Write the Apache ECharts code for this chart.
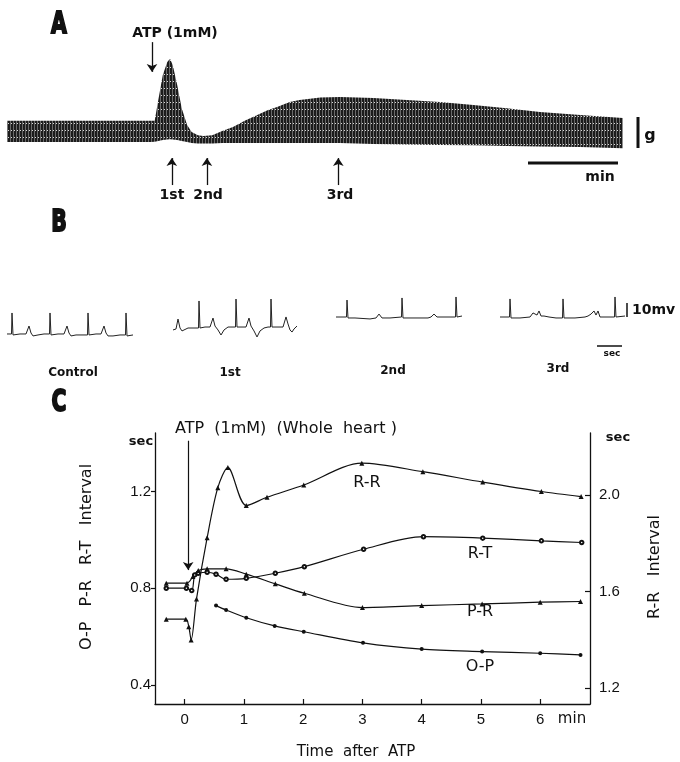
<!DOCTYPE html>
<html>
<head>
<meta charset="utf-8">
<script src="https://cdn.jsdelivr.net/npm/echarts@6/dist/echarts.min.js"></script>
<style>
html, body { margin: 0; padding: 0; background: #fff; }
#chart { width: 680px; height: 762px; }
</style>
</head>
<body>
<div id="chart"></div>
<script>
// ---- panel A : contraction record, envelope of the beats (min after ATP / g)
var forceTime  = [-1.61, -0.58, -0.02, 0.03, 0.07, 0.12, 0.17, 0.2, 0.23, 0.28, 0.33, 0.39, 0.44, 0.51, 0.57, 0.67, 0.78, 0.9, 1.03, 1.17, 1.29, 1.39, 1.53, 1.64, 1.87, 2.09, 2.46, 2.83, 3.2, 3.57, 3.94, 4.31, 4.76, 5.23];
var forceUpper = [0.94, 0.94, 0.94, 0.94, 1.61, 2.42, 2.84, 2.94, 2.74, 2.10, 1.35, 0.81, 0.58, 0.48, 0.45, 0.48, 0.61, 0.74, 0.94, 1.13, 1.29, 1.39, 1.55, 1.61, 1.69, 1.71, 1.68, 1.61, 1.55, 1.45, 1.35, 1.23, 1.13, 1.03];
var forceLower = [0.26, 0.26, 0.26, 0.27, 0.29, 0.32, 0.34, 0.35, 0.34, 0.32, 0.29, 0.26, 0.23, 0.21, 0.21, 0.21, 0.23, 0.23, 0.23, 0.23, 0.23, 0.23, 0.23, 0.23, 0.23, 0.23, 0.19, 0.18, 0.16, 0.15, 0.13, 0.11, 0.10, 0.06];
var eventTime  = [0.22, 0.61, 2.07];   // 1st, 2nd, 3rd

// ---- panel B : ECG strips (sec / mV)
var ecgControlT = [0, 0.18, 0.2, 0.24, 0.52, 0.76, 0.88, 0.96, 1.04, 1.24, 1.48, 1.7, 1.72, 1.76, 2.04, 2.28, 2.4, 2.48, 2.56, 2.76, 3.0, 3.22, 3.24, 3.28, 3.56, 3.76, 3.88, 3.96, 4.04, 4.24, 4.52, 4.74, 4.76, 4.8, 5.04];
var ecgControlV = [-0.7, -0.7, 14.3, -1.4, -0.7, -0.7, 5, 0, -2.1, -1.4, -0.7, -0.7, 14.3, -1.4, -0.7, -0.7, 5, 0, -2.1, -1.4, -1.4, -1.4, 14.3, -1.4, -0.7, -0.7, 5, 0, -2.1, -2.1, -1.4, -1.4, 14.3, -2.1, -1.4];
var ecg1stT = [0, 0.12, 0.2, 0.28, 0.36, 0.44, 0.6, 0.8, 1.02, 1.04, 1.08, 1.28, 1.48, 1.6, 1.68, 1.8, 1.92, 2.04, 2.2, 2.36, 2.5, 2.52, 2.56, 2.76, 2.92, 3.04, 3.12, 3.24, 3.36, 3.48, 3.64, 3.8, 3.9, 3.92, 3.96, 4.16, 4.4, 4.52, 4.6, 4.68, 4.76, 4.84, 4.96];
var ecg1stV = [-1.4, -0.7, 6.4, 0, -2.1, -0.7, 0, 0, 0, 19.3, 0, 0.7, 0.7, 7.1, 1.4, -1.4, -5, -1.4, 0.7, 0.7, 0.7, 20.7, 0.7, 0.7, 0.7, 7.1, 1.4, -2.1, -6.4, -2.1, 0, 0.7, 0.7, 20.7, 0.7, 0.7, 0.7, 7.9, 2.9, -1.4, -2.9, -0.7, 1.4];
var ecg2ndT = [0, 0.42, 0.44, 0.48, 0.76, 1.36, 1.6, 1.72, 1.84, 2.16, 2.62, 2.64, 2.68, 3.16, 3.68, 3.8, 3.92, 4.04, 4.48, 4.78, 4.8, 4.84, 5.04];
var ecg2ndV = [0, 0, 12.1, -0.7, -0.7, -1.4, -0.7, 2.1, -0.7, -0.7, 0, 13.6, -0.7, -0.7, -0.7, 0, 2.1, 0, 0, 0, 14.3, 0, 0.7];
var ecg3rdT = [0, 0.38, 0.4, 0.44, 0.8, 1.2, 1.32, 1.4, 1.48, 1.56, 1.64, 1.76, 1.84, 1.96, 2.24, 2.5, 2.52, 2.56, 3.0, 3.4, 3.52, 3.64, 3.7, 3.76, 3.84, 3.92, 4.0, 4.32, 4.58, 4.6, 4.64, 5.0];
var ecg3rdV = [0, 0, 12.9, -0.7, -0.7, 0, 2.9, 4.3, 1.4, 4.3, 0.7, 0.7, 1.4, 0, -0.7, -0.7, 12.9, -0.7, -0.7, 0, 0.7, 2.1, 0.7, 4.3, 1.4, 4.3, 0, 0, 0, 14.3, 0, 0.7];

// ---- panel C : intervals (min after ATP / sec)
var rrTime  = [-0.31, 0.02, 0.07, 0.11, 0.20, 0.38, 0.56, 0.73, 1.04, 1.39, 2.01, 2.99, 4.02, 5.03, 6.02, 6.69];
var rrValue = [1.486, 1.486, 1.455, 1.40, 1.569, 1.823, 2.03, 2.113, 1.956, 1.99, 2.041, 2.131, 2.096, 2.053, 2.014, 1.993];
var rtTime  = [-0.31, 0.03, 0.12, 0.17, 0.23, 0.38, 0.53, 0.70, 1.04, 1.53, 2.02, 3.02, 4.03, 5.03, 6.02, 6.70];
var rtValue = [0.80, 0.80, 0.79, 0.855, 0.862, 0.866, 0.858, 0.837, 0.841, 0.862, 0.889, 0.961, 1.013, 1.007, 0.996, 0.989];
var prTime  = [-0.31, 0.04, 0.14, 0.23, 0.38, 0.70, 1.04, 1.53, 2.02, 3.0, 4.0, 5.02, 6.0, 6.68];
var prValue = [0.821, 0.821, 0.848, 0.873, 0.880, 0.880, 0.858, 0.818, 0.779, 0.72, 0.728, 0.735, 0.742, 0.745];
var opTime  = [0.53, 0.70, 1.04, 1.52, 2.01, 3.01, 4.0, 5.02, 6.0, 6.68];
var opValue = [0.728, 0.710, 0.678, 0.644, 0.620, 0.574, 0.548, 0.538, 0.531, 0.524];
var atpTime = 0.06;

var xTicks = [0, 1, 2, 3, 4, 5, 6];
var leftTicks = [0.4, 0.8, 1.2];
var rightTicks = [1.2, 1.6, 2.0];

var ink = '#111';
var word = 'DejaVu Sans';
var num = 'Liberation Sans';

function pairs(xs, ys) {
  return xs.map(function (x, i) { return [x, ys[i]]; });
}
function txt(x, y, s, font, align, rot, sx) {
  return {
    type: 'text', x: x, y: y, rotation: rot || 0, scaleX: sx || 1, silent: true,
    style: { text: s, font: font, fill: ink, textAlign: align || 'center', textVerticalAlign: 'middle', align: align || 'center', verticalAlign: 'middle' }
  };
}
function bar(x1, y1, x2, y2, w) {
  return { type: 'line', silent: true, shape: { x1: x1, y1: y1, x2: x2, y2: y2 }, style: { stroke: ink, lineWidth: w } };
}

// striped fill for the chart-recorder band
var stripe = document.createElement('canvas');
stripe.width = 3; stripe.height = 7;
(function () {
  var c = stripe.getContext('2d');
  c.fillStyle = '#1c1c1c'; c.fillRect(0, 0, 3, 7);
  c.fillStyle = '#6a6a6a'; c.fillRect(1, 0, 1, 7);
  c.fillStyle = '#d8d8d8'; c.fillRect(2, 4, 1, 1);
})();

var ecgStrips = [
  { t: ecgControlT, v: ecgControlV, left: 7, top: 291 },
  { t: ecg1stT, v: ecg1stV, left: 173, top: 286 },
  { t: ecg2ndT, v: ecg2ndV, left: 336, top: 275 },
  { t: ecg3rdT, v: ecg3rdV, left: 500, top: 275 }
];

var grids = [
  { left: 155, top: 433, width: 435, height: 271 },
  { left: 7, top: 30, width: 616, height: 160 }
];
var xAxes = [
  {
    gridIndex: 0, type: 'value', min: -0.5, max: 6.84,
    axisLine: { show: true, onZero: false, lineStyle: { color: ink, width: 1.3 } },
    axisTick: { show: true, inside: true, length: 5, customValues: xTicks, lineStyle: { color: ink, width: 1.2 } },
    axisLabel: { customValues: xTicks, color: ink, fontSize: 15, fontFamily: num, margin: 8 },
    splitLine: { show: false }
  },
  { gridIndex: 1, type: 'value', min: -1.611, max: 5.233, show: false }
];
var yAxes = [
  {
    gridIndex: 0, type: 'value', min: 0.321, max: 1.442,
    axisLine: { show: true, onZero: false, lineStyle: { color: ink, width: 1.3 } },
    axisTick: { show: true, length: 4, customValues: leftTicks, lineStyle: { color: ink, width: 1.2 } },
    axisLabel: { customValues: leftTicks, color: ink, fontSize: 15, fontFamily: num, margin: 4,
      formatter: function (v) { return v.toFixed(1); } },
    splitLine: { show: false }
  },
  {
    gridIndex: 0, type: 'value', position: 'right', min: 1.135, max: 2.256,
    axisLine: { show: true, onZero: false, lineStyle: { color: ink, width: 1.3 } },
    axisTick: { show: true, inside: true, length: 5, customValues: rightTicks, lineStyle: { color: ink, width: 1.2 } },
    axisLabel: { customValues: rightTicks, color: ink, fontSize: 15, fontFamily: num, margin: 9,
      formatter: function (v) { return v.toFixed(1); } },
    splitLine: { show: false }
  },
  { gridIndex: 1, type: 'value', min: -1.29, max: 3.871, show: false }
];

var series = [];

// panel A band
var arrowA = [[{ coord: [0, 3.48] }, { coord: [0, 2.52] }]];
eventTime.forEach(function (t) {
  arrowA.push([{ coord: [t, -1.13] }, { coord: [t, -0.26] }]);
});
series.push({
  type: 'custom', xAxisIndex: 1, yAxisIndex: 2, silent: true,
  data: pairs(forceTime, forceUpper),
  renderItem: function (params, api) {
    if (params.dataIndex !== 0) return;
    var pts = [];
    for (var i = 0; i < forceTime.length; i++) pts.push(api.coord([forceTime[i], forceUpper[i]]));
    for (var j = forceTime.length - 1; j >= 0; j--) pts.push(api.coord([forceTime[j], forceLower[j]]));
    return { type: 'polygon', shape: { points: pts }, style: { fill: { image: stripe, repeat: 'repeat' } } };
  },
  markLine: {
    silent: true, symbol: ['none', 'arrow'], symbolSize: 8,
    label: { show: false },
    lineStyle: { color: ink, width: 1.3, type: 'solid' },
    data: arrowA
  }
});

// panel B strips
ecgStrips.forEach(function (s, i) {
  grids.push({ left: s.left, top: s.top, width: 130, height: 56 });
  xAxes.push({ gridIndex: 2 + i, type: 'value', min: 0, max: 5.2, show: false });
  yAxes.push({ gridIndex: 2 + i, type: 'value', min: -10, max: 30, show: false });
  series.push({
    type: 'line', xAxisIndex: 2 + i, yAxisIndex: 3 + i, silent: true,
    data: pairs(s.t, s.v), showSymbol: false,
    lineStyle: { color: '#222', width: 1 }
  });
});

// panel C curves
function curve(name, t, v, yIdx, symbol, size) {
  return {
    name: name, type: 'line', xAxisIndex: 0, yAxisIndex: yIdx,
    data: pairs(t, v), smooth: 0.3,
    symbol: symbol, symbolSize: size, showSymbol: true, silent: true,
    lineStyle: { color: ink, width: 1.2 },
    itemStyle: { color: ink, borderWidth: 1 }
  };
}
series.push(curve('R-R', rrTime, rrValue, 1, 'triangle', 5));
series.push(curve('R-T', rtTime, rtValue, 0, 'emptyCircle', 3.5));
var pr = curve('P-R', prTime, prValue, 0, 'triangle', 5);
pr.markLine = {
  silent: true, symbol: ['none', 'arrow'], symbolSize: 8,
  label: { show: false },
  lineStyle: { color: ink, width: 1.2, type: 'solid' },
  data: [[{ coord: [atpTime, 1.41] }, { coord: [atpTime, 0.875] }]]
};
series.push(pr);
series.push(curve('O-P', opTime, opValue, 0, 'circle', 4));

// heavy condensed panel letters
function letterText(x, y, s) {
  var el = txt(x, y, s, 'bold 30px "' + word + '"', 'center', 0, 0.68);
  el.style.stroke = ink;
  el.style.lineWidth = 2;
  return el;
}
var graphics = [
  letterText(59, 25, 'A'),
  letterText(59, 223, 'B'),
  letterText(59, 403, 'C'),
  txt(175, 33, 'ATP (1mM)', 'bold 14px "' + word + '"'),
  txt(172, 195, '1st', 'bold 14px "' + word + '"'),
  txt(208, 195, '2nd', 'bold 14px "' + word + '"'),
  txt(340, 195, '3rd', 'bold 14px "' + word + '"'),
  bar(638, 117, 638, 148, 3),
  txt(650, 136, 'g', 'bold 16px "' + word + '"'),
  bar(528, 163, 618, 163, 3),
  txt(600, 177, 'min', 'bold 14px "' + word + '"'),
  txt(73, 373, 'Control', 'bold 12px "' + word + '"'),
  txt(230, 373, '1st', 'bold 12px "' + word + '"'),
  txt(393, 371, '2nd', 'bold 12px "' + word + '"'),
  txt(558, 369, '3rd', 'bold 12px "' + word + '"'),
  bar(627, 303, 627, 317, 1.5),
  txt(632, 310, '10mv', 'bold 14px "' + word + '"', 'left'),
  bar(597, 346, 622, 346, 1.5),
  txt(612, 354, 'sec', 'bold 9px "' + word + '"'),
  txt(175, 429, 'ATP  (1mM)  (Whole  heart )', '16px "' + word + '"', 'left'),
  txt(141, 442, 'sec', 'bold 13px "' + word + '"'),
  txt(618, 438, 'sec', 'bold 13px "' + word + '"'),
  txt(87, 557, 'O-P   P-R   R-T   Interval', '16px "' + word + '"', 'center', Math.PI / 2),
  txt(655, 567, 'R-R   Interval', '16px "' + word + '"', 'center', Math.PI / 2),
  txt(367, 483, 'R-R', '16px "' + word + '"'),
  txt(480, 554, 'R-T', '16px "' + word + '"'),
  txt(480, 612, 'P-R', '16px "' + word + '"'),
  txt(480, 667, 'O-P', '16px "' + word + '"'),
  txt(572, 719, 'min', '15px "' + word + '"'),
  txt(356, 752, 'Time  after  ATP', '15px "' + word + '"')
];

var chart = echarts.init(document.getElementById('chart'));
chart.setOption({
  animation: false,
  backgroundColor: '#fff',
  grid: grids,
  xAxis: xAxes,
  yAxis: yAxes,
  series: series,
  graphic: { elements: graphics }
});
</script>
</body>
</html>
